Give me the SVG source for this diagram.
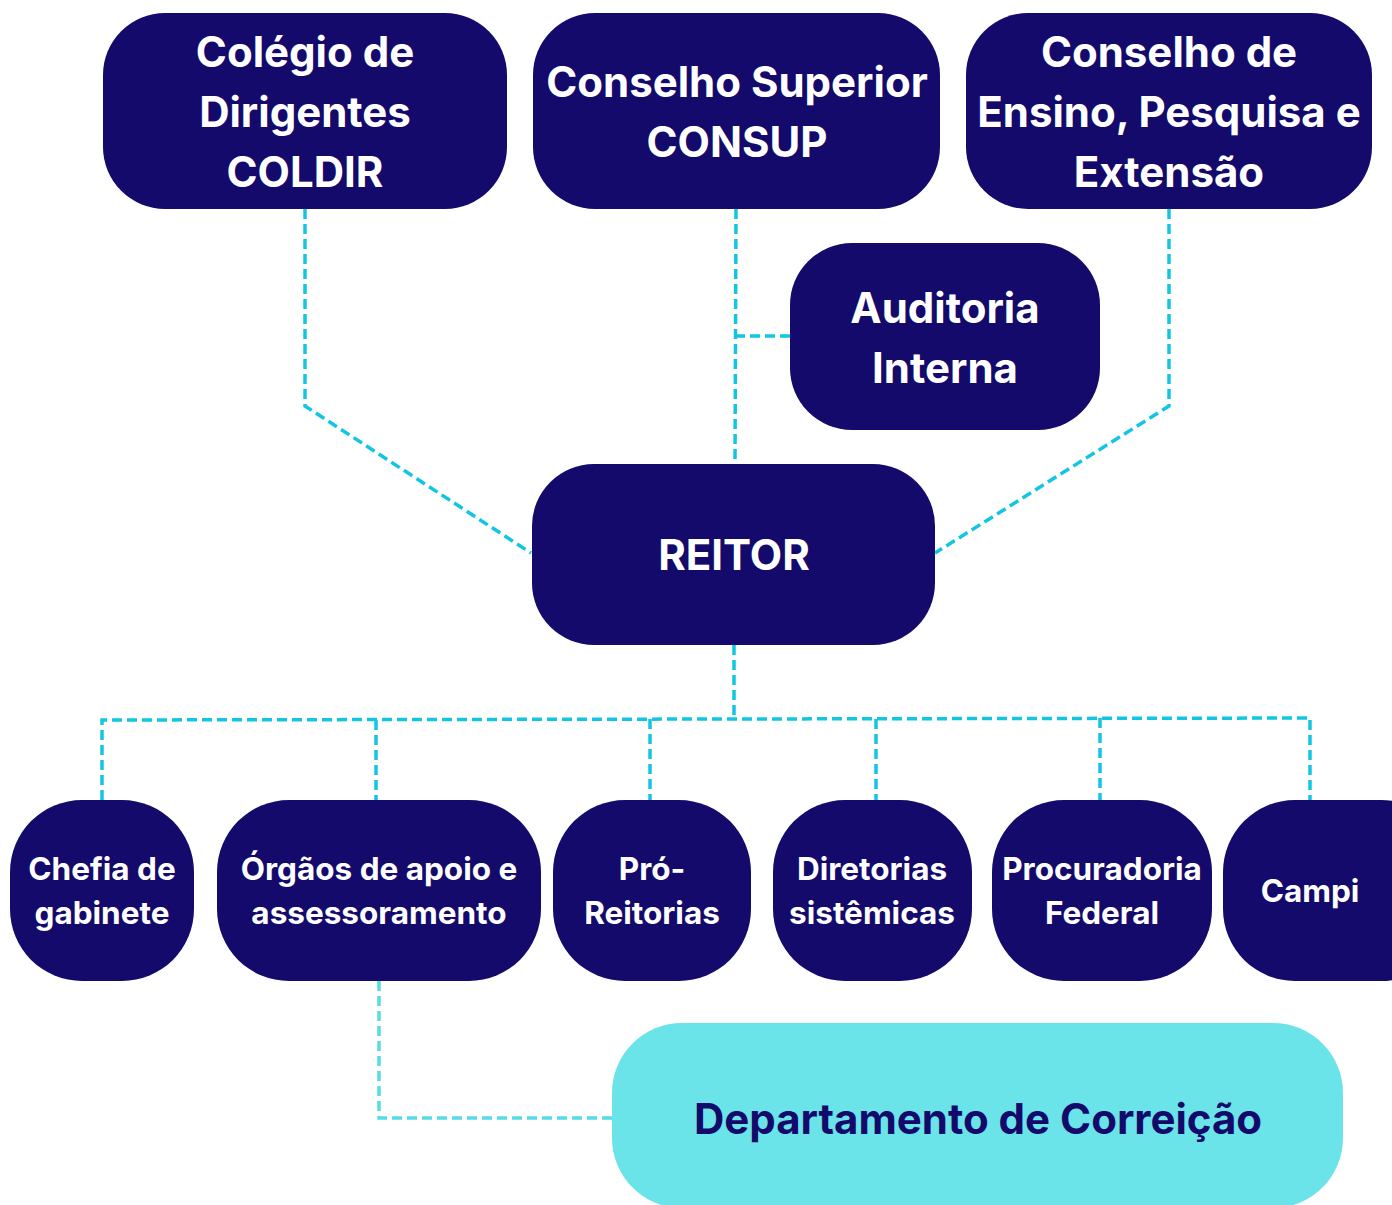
<svg xmlns="http://www.w3.org/2000/svg" width="1392" height="1205" viewBox="0 0 1392 1205">
<style>
.box{fill:#140a6b}
.t{font-family:Inter,"Noto Sans","Liberation Sans",sans-serif;font-weight:700;fill:#ffffff;text-anchor:middle}
.big{font-size:42px}
.sm{font-size:31.5px}
.con{fill:none;stroke:#12c6e3;stroke-width:3.5;stroke-dasharray:10 5}
.con2{fill:none;stroke:#55dde6;stroke-width:3.5;stroke-dasharray:10 5}
</style>
<rect width="1392" height="1205" fill="#ffffff"/>
<g id="connectors">
<polyline class="con" points="305,209 305,406 531,553"/>
<polyline class="con" points="1169,209 1169,406 935,553"/>
<polyline class="con" points="736,209 735,464"/>
<polyline class="con" points="735,336 790,336"/>
<polyline class="con" points="734,645 734,719"/>
<polyline class="con" points="102,800 102,720 734,719 1310,718 1310,800"/>
<polyline class="con" points="376,720 376,800"/>
<polyline class="con" points="650,719 650,800"/>
<polyline class="con" points="876,719 876,800"/>
<polyline class="con" points="1100,718 1100,800"/>
<polyline class="con2" points="379,981 379,1118 612,1118"/>
</g>
<g id="coldir">
<rect class="box" x="103" y="13" width="404" height="196" rx="62"/>
<text class="t big" x="305" y="67">Colégio de</text>
<text class="t big" x="305" y="127">Dirigentes</text>
<text class="t big" x="305" y="187">COLDIR</text>
</g>
<g id="consup">
<rect class="box" x="533" y="13" width="407" height="196" rx="62"/>
<text class="t big" x="737" y="97">Conselho Superior</text>
<text class="t big" x="737" y="157">CONSUP</text>
</g>
<g id="consepe">
<rect class="box" x="966" y="13" width="406" height="196" rx="62"/>
<text class="t big" x="1169" y="67">Conselho de</text>
<text class="t big" x="1169" y="127">Ensino, Pesquisa e</text>
<text class="t big" x="1169" y="187">Extensão</text>
</g>
<g id="auditoria">
<rect class="box" x="790" y="243" width="310" height="187" rx="62"/>
<text class="t big" x="945" y="323">Auditoria</text>
<text class="t big" x="945" y="383">Interna</text>
</g>
<g id="reitor">
<rect class="box" x="532" y="464" width="403" height="181" rx="62"/>
<text class="t big" x="734" y="570">REITOR</text>
</g>
<g id="chefia">
<rect class="box" x="10" y="800" width="184" height="181" rx="72"/>
<text class="t sm" x="102" y="880">Chefia de</text>
<text class="t sm" x="102" y="924">gabinete</text>
</g>
<g id="orgaos">
<rect class="box" x="217" y="800" width="324" height="181" rx="72"/>
<text class="t sm" x="379" y="880">Órgãos de apoio e</text>
<text class="t sm" x="379" y="924">assessoramento</text>
</g>
<g id="proreitorias">
<rect class="box" x="553" y="800" width="198" height="181" rx="72"/>
<text class="t sm" x="652" y="880">Pró-</text>
<text class="t sm" x="652" y="924">Reitorias</text>
</g>
<g id="diretorias">
<rect class="box" x="773" y="800" width="199" height="181" rx="72"/>
<text class="t sm" x="872" y="880">Diretorias</text>
<text class="t sm" x="872" y="924">sistêmicas</text>
</g>
<g id="procuradoria">
<rect class="box" x="992" y="800" width="220" height="181" rx="72"/>
<text class="t sm" x="1102" y="880">Procuradoria</text>
<text class="t sm" x="1102" y="924">Federal</text>
</g>
<g id="campi">
<rect class="box" x="1223" y="800" width="230" height="181" rx="72"/>
<text class="t sm" x="1310" y="902">Campi</text>
</g>
<g id="departamento">
<rect x="612" y="1023" width="731" height="185" rx="70" fill="#6ae4e8"/>
<text class="t" x="978" y="1134" style="font-size:42px;fill:#140a6b">Departamento de Correição</text>
</g>
</svg>
